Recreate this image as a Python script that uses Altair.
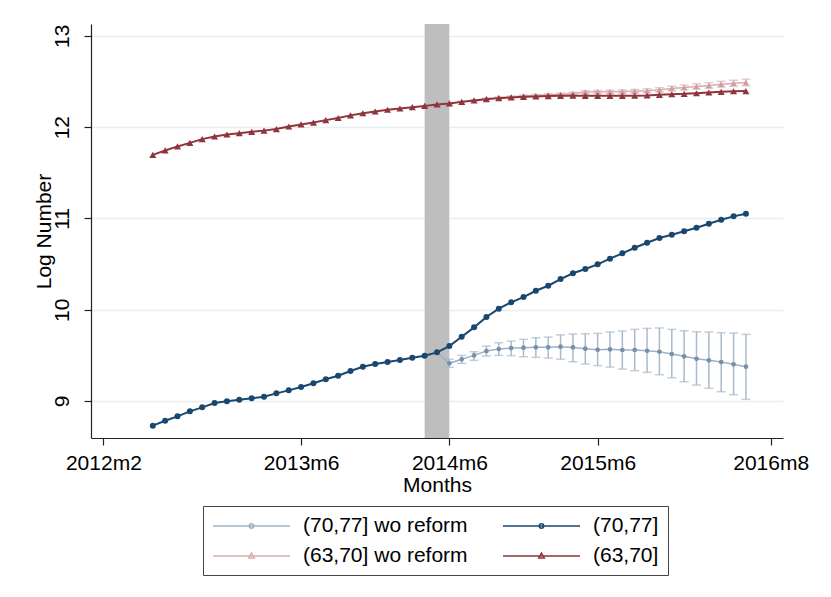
import altair as alt
import pandas as pd

FONT = "Liberation Sans"
FS = 21

# ---- data -------------------------------------------------------------
# monthly observations 2012m6 .. 2016m6
months = [str(p) for p in pd.period_range("2012-06", "2016-06", freq="M")]
# counterfactual ("wo reform") paths start in 2014m5
wo_months = months[months.index("2014-05"):]
ci_months = months[months.index("2014-06"):]

blue_main = [8.730, 8.784, 8.832, 8.887, 8.931, 8.978, 8.997, 9.014, 9.030, 9.047,
             9.084, 9.117, 9.153, 9.194, 9.238, 9.277, 9.329, 9.376, 9.405, 9.427,
             9.449, 9.475, 9.497, 9.533, 9.602, 9.704, 9.807, 9.920, 10.011, 10.081,
             10.139, 10.208, 10.263, 10.336, 10.400, 10.446, 10.497, 10.559, 10.618, 10.679,
             10.734, 10.785, 10.821, 10.859, 10.898, 10.942, 10.986, 11.023, 11.052]

red_main = [11.697, 11.745, 11.789, 11.828, 11.869, 11.898, 11.920, 11.934, 11.949, 11.962,
            11.979, 12.007, 12.030, 12.050, 12.077, 12.100, 12.129, 12.153, 12.172, 12.190,
            12.205, 12.219, 12.233, 12.249, 12.260, 12.277, 12.292, 12.307, 12.318, 12.325,
            12.332, 12.336, 12.340, 12.343, 12.345, 12.343, 12.343, 12.343, 12.343, 12.344,
            12.347, 12.354, 12.361, 12.365, 12.372, 12.380, 12.387, 12.394, 12.395]

blue_wo = [9.533, 9.413, 9.457, 9.500, 9.548, 9.570, 9.580, 9.584, 9.588, 9.588,
           9.595, 9.587, 9.573, 9.562, 9.566, 9.559, 9.559, 9.551, 9.540, 9.515,
           9.490, 9.463, 9.446, 9.427, 9.402, 9.376]
blue_wo_lo = [9.369, 9.413, 9.446, 9.493, 9.500, 9.497, 9.485, 9.478, 9.471, 9.458,
              9.430, 9.405, 9.387, 9.372, 9.350, 9.332, 9.314, 9.288, 9.255, 9.211,
              9.175, 9.139, 9.102, 9.069, 9.019]
blue_wo_hi = [9.457, 9.500, 9.540, 9.602, 9.639, 9.657, 9.676, 9.693, 9.700, 9.725,
              9.734, 9.737, 9.741, 9.756, 9.767, 9.785, 9.796, 9.800, 9.785, 9.770,
              9.759, 9.756, 9.748, 9.745, 9.730]

red_wo = [12.249, 12.262, 12.279, 12.295, 12.311, 12.323, 12.332, 12.341, 12.348, 12.354,
          12.360, 12.368, 12.385, 12.387, 12.388, 12.390, 12.394, 12.400, 12.410, 12.424,
          12.435, 12.446, 12.457, 12.470, 12.480, 12.490]
red_wo_lo = [12.258, 12.274, 12.289, 12.304, 12.315, 12.323, 12.331, 12.337, 12.342, 12.347,
             12.354, 12.370, 12.371, 12.371, 12.372, 12.375, 12.380, 12.388, 12.400, 12.409,
             12.418, 12.427, 12.438, 12.446, 12.454]
red_wo_hi = [12.266, 12.284, 12.301, 12.318, 12.331, 12.341, 12.351, 12.359, 12.366, 12.373,
             12.382, 12.400, 12.403, 12.405, 12.408, 12.413, 12.420, 12.432, 12.448, 12.461,
             12.474, 12.487, 12.502, 12.514, 12.526]

S_BW, S_B = "(70,77] wo reform", "(70,77]"
S_RW, S_R = "(63,70] wo reform", "(63,70]"
legend_order = [S_BW, S_B, S_RW, S_R]

band_start, band_end = "2014-04", "2014-06"
x_tick_months = ["2012-02", "2013-06", "2014-06", "2015-06", "2016-08"]
x_range_months = ["2012-01", "2016-09"]
y_ticks = [9, 10, 11, 12, 13]
y_range = [8.595, 13.13]


def tm(label):
    """Stata-style monthly index (months since 1960m1)."""
    p = pd.Period(label, freq="M")
    return (p.year - 1960) * 12 + p.month - 1


rows = []
for name, ms, vals in [(S_B, months, blue_main), (S_R, months, red_main),
                       (S_BW, wo_months, blue_wo), (S_RW, wo_months, red_wo)]:
    for m, v in zip(ms, vals):
        rows.append({"series": name, "t": tm(m), "value": v})
df = pd.DataFrame(rows)

ci_rows = []
for name, lo, hi in [(S_BW, blue_wo_lo, blue_wo_hi), (S_RW, red_wo_lo, red_wo_hi)]:
    for m, a, b in zip(ci_months, lo, hi):
        ci_rows.append({"series": name, "t": tm(m), "lo": a, "hi": b})
ci = pd.DataFrame(ci_rows)

band = pd.DataFrame({"start": [tm(band_start)], "end": [tm(band_end)]})

# ---- scales / axes -----------------------------------------------------
W, H = 692, 414
xs = alt.Scale(domain=[tm(m) for m in x_range_months], nice=False, zero=False)
ys = alt.Scale(domain=y_range, nice=False, zero=False)
x_axis = alt.Axis(values=[tm(m) for m in x_tick_months],
                  labelExpr="floor(datum.value / 12) + 1960 + 'm' + (datum.value % 12 + 1)",
                  title="Months", grid=False, tickSize=7, labelPadding=7, titlePadding=1)
y_axis = alt.Axis(values=y_ticks, title="Log Number", grid=True, tickSize=7,
                  labelAngle=270, labelAlign="center", labelBaseline="bottom",
                  labelPadding=12, titlePadding=-3)


def X(field="t"):
    return alt.X(f"{field}:Q", scale=xs, axis=x_axis)


def Y(field="value"):
    return alt.Y(f"{field}:Q", scale=ys, axis=y_axis)


base = alt.Chart(df)
ci_base = alt.Chart(ci)

shade = alt.Chart(band).mark_rect(color="#bebebe").encode(
    x=X("start"), x2="end")


def wo_layers(name, line_col, bar_col, pt_col, shape, pt_size):
    c = ci_base.transform_filter(alt.datum.series == name)
    s = base.transform_filter(alt.datum.series == name)
    bars = c.mark_rule(color=bar_col, strokeWidth=1.5).encode(x=X(), y=Y("lo"), y2="hi")
    cap_lo = c.mark_tick(color=bar_col, orient="horizontal", size=9, thickness=1.5).encode(x=X(), y=Y("lo"))
    cap_hi = c.mark_tick(color=bar_col, orient="horizontal", size=9, thickness=1.5).encode(x=X(), y=Y("hi"))
    line = s.mark_line(color=line_col, strokeWidth=1.5).encode(x=X(), y=Y())
    pts = s.mark_point(filled=True, opacity=1, color=pt_col, shape=shape, size=pt_size).encode(x=X(), y=Y())
    return [bars, cap_lo, cap_hi, line, pts]


def main_layers(name, col, shape, pt_size):
    s = base.transform_filter(alt.datum.series == name)
    line = s.mark_line(color=col, strokeWidth=2).encode(x=X(), y=Y())
    pts = s.mark_point(filled=True, opacity=1, color=col, shape=shape, size=pt_size).encode(x=X(), y=Y())
    return [line, pts]


# legend symbols: a line segment with the series marker in its centre.
# The symbol unit is 10 px (size 400); the path reaches 38.5 px each side.
LINE = "M-3.85,0L3.85,0"
DOT = "M-0.22,0A0.22,0.22,0,1,0,0.22,0A0.22,0.22,0,1,0,-0.22,0"
TRI = "M0,-0.3L0.28,0.2L-0.28,0.2Z"
legend_colors = ["#9fb2c5", "#1a476f", "#d8aeb1", "#90353b"]
legend_shapes = [LINE + DOT, LINE + DOT, LINE + TRI, LINE + TRI]

leg = alt.Legend(title=None, orient="none", legendX=112, legendY=482, direction="horizontal",
                 columns=2, columnPadding=32, rowPadding=9, padding=9,
                 symbolSize=400, symbolStrokeWidth=1.5, symbolOffset=28.5, symbolOpacity=1,
                 labelOffset=40.5, labelFontSize=FS, labelFont=FONT, labelColor="black",
                 labelLimit=400, strokeColor="#444444", fillColor="white")

legend_layer = base.transform_filter("false").mark_point(filled=False, opacity=1).encode(
    x=X(), y=Y(),
    color=alt.Color("series:N", scale=alt.Scale(domain=legend_order, range=legend_colors), legend=leg),
    shape=alt.Shape("series:N", scale=alt.Scale(domain=legend_order, range=legend_shapes), legend=leg),
)

layers = [shade]
layers += wo_layers(S_RW, "#d8aeb1", "#dcb7ba", "#cf9ea2", "triangle-up", 40)
layers += main_layers(S_R, "#90353b", "triangle-up", 50)
layers += wo_layers(S_BW, "#9fb2c5", "#a9bacb", "#7590ab", "circle", 22)
layers += main_layers(S_B, "#1a476f", "circle", 36)
layers += [legend_layer]

chart = alt.layer(*layers).properties(
    width=W, height=H,
    autosize=alt.AutoSizeParams(type="none"),
    padding={"left": 91, "top": 24, "right": 831 - 91 - W, "bottom": 597 - 24 - H},
    background="white",
).configure_view(stroke=None).configure_axis(
    labelFont=FONT, titleFont=FONT, labelFontSize=FS, titleFontSize=FS,
    labelColor="black", titleColor="black", titleFontWeight="normal",
    domainColor="#222222", tickColor="#222222", domainWidth=1.2, tickWidth=1.2,
    gridColor="#e7eef0", gridWidth=1.5,
)

chart.save("out.html", embed_options={"renderer": "svg", "actions": False})
